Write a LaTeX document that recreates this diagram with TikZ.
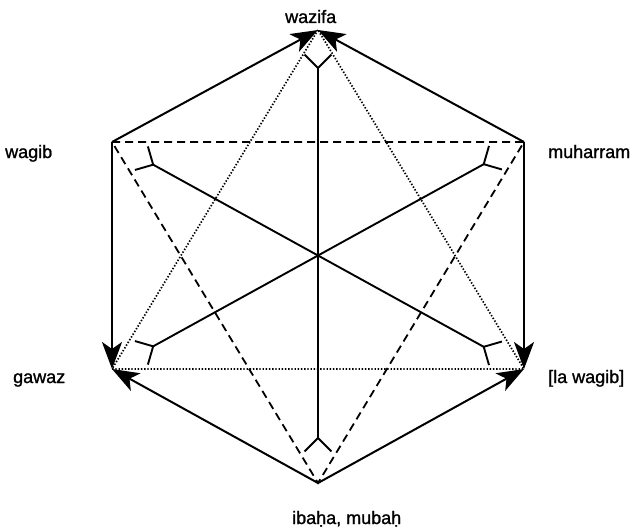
\documentclass[tikz,border=0pt]{standalone}
\usepackage{fontspec}
\setmainfont{Liberation Sans}[FakeBold=1.2]
\usetikzlibrary{calc,arrows.meta}
\begin{document}
\begin{tikzpicture}[x=1pt,y=-1pt,
  lbl/.style={font=\fontsize{18}{20}\selectfont, anchor=base west, inner sep=0pt},
  arr/.style={line width=2pt, -{Stealth[length=27pt,width=20pt,inset=7pt]}},
  dsh/.style={line width=1.8pt, dash pattern=on 8pt off 5pt},
  dot/.style={line width=1.7pt, dash pattern=on 1.4pt off 1.8pt},
  diag/.style={line width=1.9pt}]
\useasboundingbox (0,0) rectangle (637,530);
% vertices
\coordinate (W)  at (318,30);
\coordinate (Wg) at (112,142);
\coordinate (M)  at (524,142);
\coordinate (G)  at (112,369);
\coordinate (L)  at (524,369);
\coordinate (I)  at (318,483);
% labels
\node[lbl] (tw) at (285,23) {wazifa};
\node[lbl] (twg) at (5,158) {wagib};
\node[lbl] (tm) at (548,158) {muharram};
\node[lbl] (tg) at (13,383) {gawaz};
\node[lbl] (tl) at (548,383) {[la wagib]};
\node[lbl] (ti) at (292,524) {ibaḥa, mubaḥ};
% dashed triangle
\draw[dsh] (Wg) -- (M) -- (I) -- cycle;
% dotted triangle
\draw[dot] (W) -- (G) -- (L) -- cycle;
% diagonals with forks
\foreach \a/\b/\da/\db in {W/I/38/45, Wg/L/47/46, M/G/46/47}{
  \coordinate (J1) at ($(\a)!\da pt!(\b)$);
  \coordinate (J2) at ($(\b)!\db pt!(\a)$);
  \draw[diag] (J1) -- (J2);
  \draw[diag] ($(J1)!19pt!45:(\a)$) -- (J1) -- ($(J1)!19pt!-45:(\a)$);
  \draw[diag] ($(J2)!19pt!45:(\b)$) -- (J2) -- ($(J2)!19pt!-45:(\b)$);
}
% arrows
\draw[arr] (Wg) -- (W);
\draw[arr] (M) -- (W);
\draw[arr] (Wg) -- (G);
\draw[arr] (M) -- (L);
\draw[arr] (I) -- (G);
\draw[arr] (I) -- (L);
\end{tikzpicture}
\end{document}
